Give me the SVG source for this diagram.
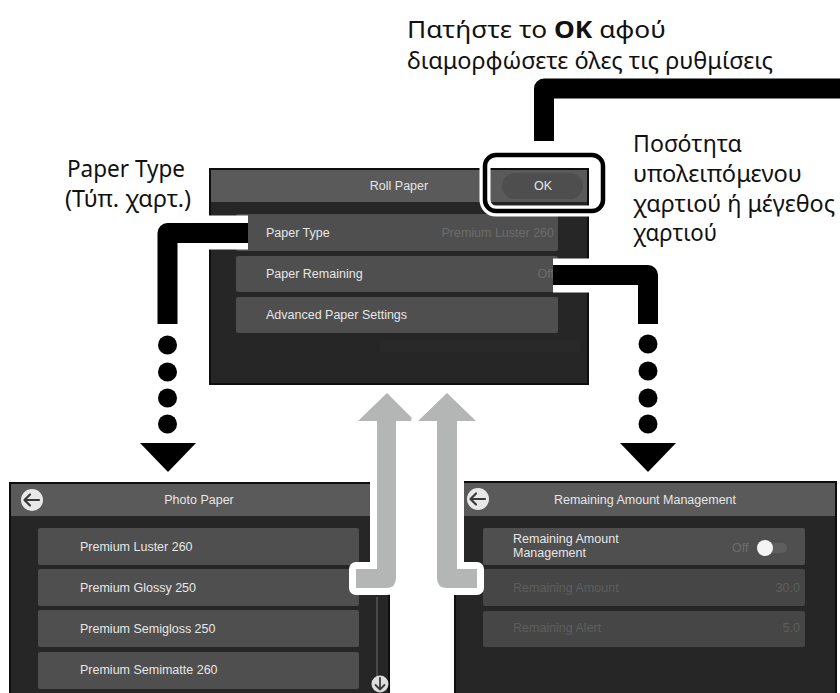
<svg xmlns="http://www.w3.org/2000/svg" width="840" height="693" viewBox="0 0 840 693">
<defs>
<style>
.lbl{font-family:"Noto Sans","Open Sans","DejaVu Sans",sans-serif;font-size:23px;fill:#111}
.ui{font-family:"Liberation Sans",Arial,sans-serif;font-size:12.5px;fill:#e6e6e6}
.dim{fill:#6c6c6c}
.dis{fill:#5e5e5e}
.hdr{fill:#5a5a5a}
.body{fill:#262626;stroke:#0e0e0e;stroke-width:2}
.row{fill:#4f4f4f}
.rowd{fill:#464646}
.halo{fill:none;stroke:#fff;stroke-width:34;stroke-linejoin:round}
.blk{fill:none;stroke:#000;stroke-width:20;stroke-linejoin:round}
.gray{fill:#b4b6b5;stroke:#fff;stroke-width:14;stroke-linejoin:round;paint-order:stroke}
</style>
</defs>
<rect width="840" height="693" fill="#fff"/>

<g id="label-ok">
<text class="lbl" x="407" y="38" textLength="259" lengthAdjust="spacingAndGlyphs">Πατήστε το <tspan font-weight="bold">OK</tspan> αφού</text>
<text class="lbl" x="407" y="69" textLength="366" lengthAdjust="spacingAndGlyphs">διαμορφώσετε όλες τις ρυθμίσεις</text>
</g>
<g id="label-paper-type">
<text class="lbl" x="67" y="177" textLength="118" lengthAdjust="spacingAndGlyphs">Paper Type</text>
<text class="lbl" x="65" y="207" textLength="126" lengthAdjust="spacingAndGlyphs">(Τύπ. χαρτ.)</text>
</g>
<g id="label-remaining">
<text class="lbl" x="633" y="152" textLength="109" lengthAdjust="spacingAndGlyphs">Ποσότητα</text>
<text class="lbl" x="633" y="182" textLength="169" lengthAdjust="spacingAndGlyphs">υπολειπόμενου</text>
<text class="lbl" x="633" y="212" textLength="202" lengthAdjust="spacingAndGlyphs">χαρτιού ή μέγεθος</text>
<text class="lbl" x="633" y="241" textLength="84" lengthAdjust="spacingAndGlyphs">χαρτιού</text>
</g>

<g id="screen-roll-paper">
<rect class="body" x="210" y="169" width="378" height="215"/>
<rect class="hdr" x="211" y="170" width="376" height="32"/>
<text class="ui" x="399" y="190" text-anchor="middle">Roll Paper</text>
<rect x="502" y="173" width="81" height="26" rx="13" fill="#4e4e4e"/>
<text class="ui" x="543" y="190" text-anchor="middle">OK</text>
<rect class="row" x="236" y="214" width="322" height="37" rx="2"/>
<rect class="row" x="236" y="256" width="322" height="36" rx="2"/>
<rect class="row" x="236" y="297" width="322" height="36" rx="2"/>
<rect x="380" y="340" width="200" height="12" fill="#292929"/>
<text class="ui" x="266" y="237">Paper Type</text>
<text class="ui dim" x="554" y="237" text-anchor="end">Premium Luster 260</text>
<text class="ui" x="266" y="278">Paper Remaining</text>
<text class="ui dim" x="554" y="278" text-anchor="end">Off</text>
<text class="ui" x="266" y="319">Advanced Paper Settings</text>
</g>

<g id="screen-photo-paper">
<rect class="body" x="10" y="483" width="379" height="220"/>
<rect class="hdr" x="11" y="484" width="377" height="32"/>
<circle cx="32" cy="500" r="11" fill="#e8e8e8"/>
<path d="M39 500H25M30 494.5L24.5 500L30 505.5" fill="none" stroke="#3a3a3a" stroke-width="2.2" stroke-linecap="round" stroke-linejoin="round"/>
<text class="ui" x="199" y="504" text-anchor="middle">Photo Paper</text>
<rect class="row" x="38" y="528" width="321" height="37" rx="2"/>
<rect class="row" x="38" y="569" width="321" height="37" rx="2"/>
<rect class="row" x="38" y="610" width="321" height="37" rx="2"/>
<rect class="row" x="38" y="652" width="321" height="37" rx="2"/>
<text class="ui" x="80" y="551">Premium Luster 260</text>
<text class="ui" x="80" y="592">Premium Glossy 250</text>
<text class="ui" x="80" y="633">Premium Semigloss 250</text>
<text class="ui" x="80" y="674">Premium Semimatte 260</text>
<line x1="377" y1="597" x2="377" y2="676" stroke="#4a4a4a" stroke-width="2"/>
<circle cx="380" cy="684" r="8.5" fill="#dedede"/>
<path d="M380 678V689M375.5 685L380 689.5L384.5 685" fill="none" stroke="#3a3a3a" stroke-width="1.8" stroke-linecap="round" stroke-linejoin="round"/>
</g>

<g id="screen-remaining">
<rect class="body" x="455" y="482" width="381" height="220"/>
<rect class="hdr" x="456" y="483" width="379" height="33"/>
<circle cx="478" cy="499" r="11" fill="#e8e8e8"/>
<path d="M485 499H471M476 493.5L470.5 499L476 504.5" fill="none" stroke="#3a3a3a" stroke-width="2.2" stroke-linecap="round" stroke-linejoin="round"/>
<text class="ui" x="645" y="504" text-anchor="middle">Remaining Amount Management</text>
<rect class="row" x="483" y="528" width="322" height="37" rx="2"/>
<rect class="rowd" x="483" y="569" width="322" height="37" rx="2"/>
<rect class="rowd" x="483" y="611" width="322" height="36" rx="2"/>
<text class="ui" x="513" y="543">Remaining Amount</text>
<text class="ui" x="513" y="557">Management</text>
<text class="ui dim" x="732" y="552">Off</text>
<rect x="758" y="543" width="29" height="10" rx="5" fill="#5e5e5e"/>
<circle cx="765" cy="548" r="8" fill="#f4f4f4"/>
<text class="ui dis" x="513" y="592">Remaining Amount</text>
<text class="ui dis" x="800" y="592" text-anchor="end">30.0</text>
<text class="ui dis" x="513" y="632">Remaining Alert</text>
<text class="ui dis" x="800" y="632" text-anchor="end">5.0</text>
</g>

<g id="connectors">
<path class="halo" d="M248 232.5H167V324"/>
<path class="blk" d="M248 233H167.5V324"/>
<path class="halo" d="M553 275.5H648V324"/>
<path class="blk" d="M553 275H648V324"/>
<path class="blk" d="M544 141V88.5H860" stroke-width="19"/>
<g fill="#000">
<circle cx="167.5" cy="345" r="9.5"/><circle cx="167.5" cy="372" r="9.5"/><circle cx="167.5" cy="398" r="9.5"/><circle cx="167.5" cy="424" r="9.5"/>
<polygon points="140,443 196,443 168,472"/>
<circle cx="648" cy="344" r="9.5"/><circle cx="648" cy="371" r="9.5"/><circle cx="648" cy="398" r="9.5"/><circle cx="648" cy="424" r="9.5"/>
<polygon points="620,443 676,443 648,472"/>
</g>
<rect x="485" y="155" width="118" height="56" rx="11" fill="none" stroke="#fff" stroke-width="11"/>
<rect x="485" y="155" width="118" height="56" rx="11" fill="none" stroke="#000" stroke-width="4.5"/>
<path class="gray" d="M387 393L415 421H396V578Q396 588 386 588H356V569H377V421H358Z"/>
<path class="gray" d="M447 393L476 421H457V569H477V588H447Q437 588 437 578V421H418Z"/>
</g>
</svg>
